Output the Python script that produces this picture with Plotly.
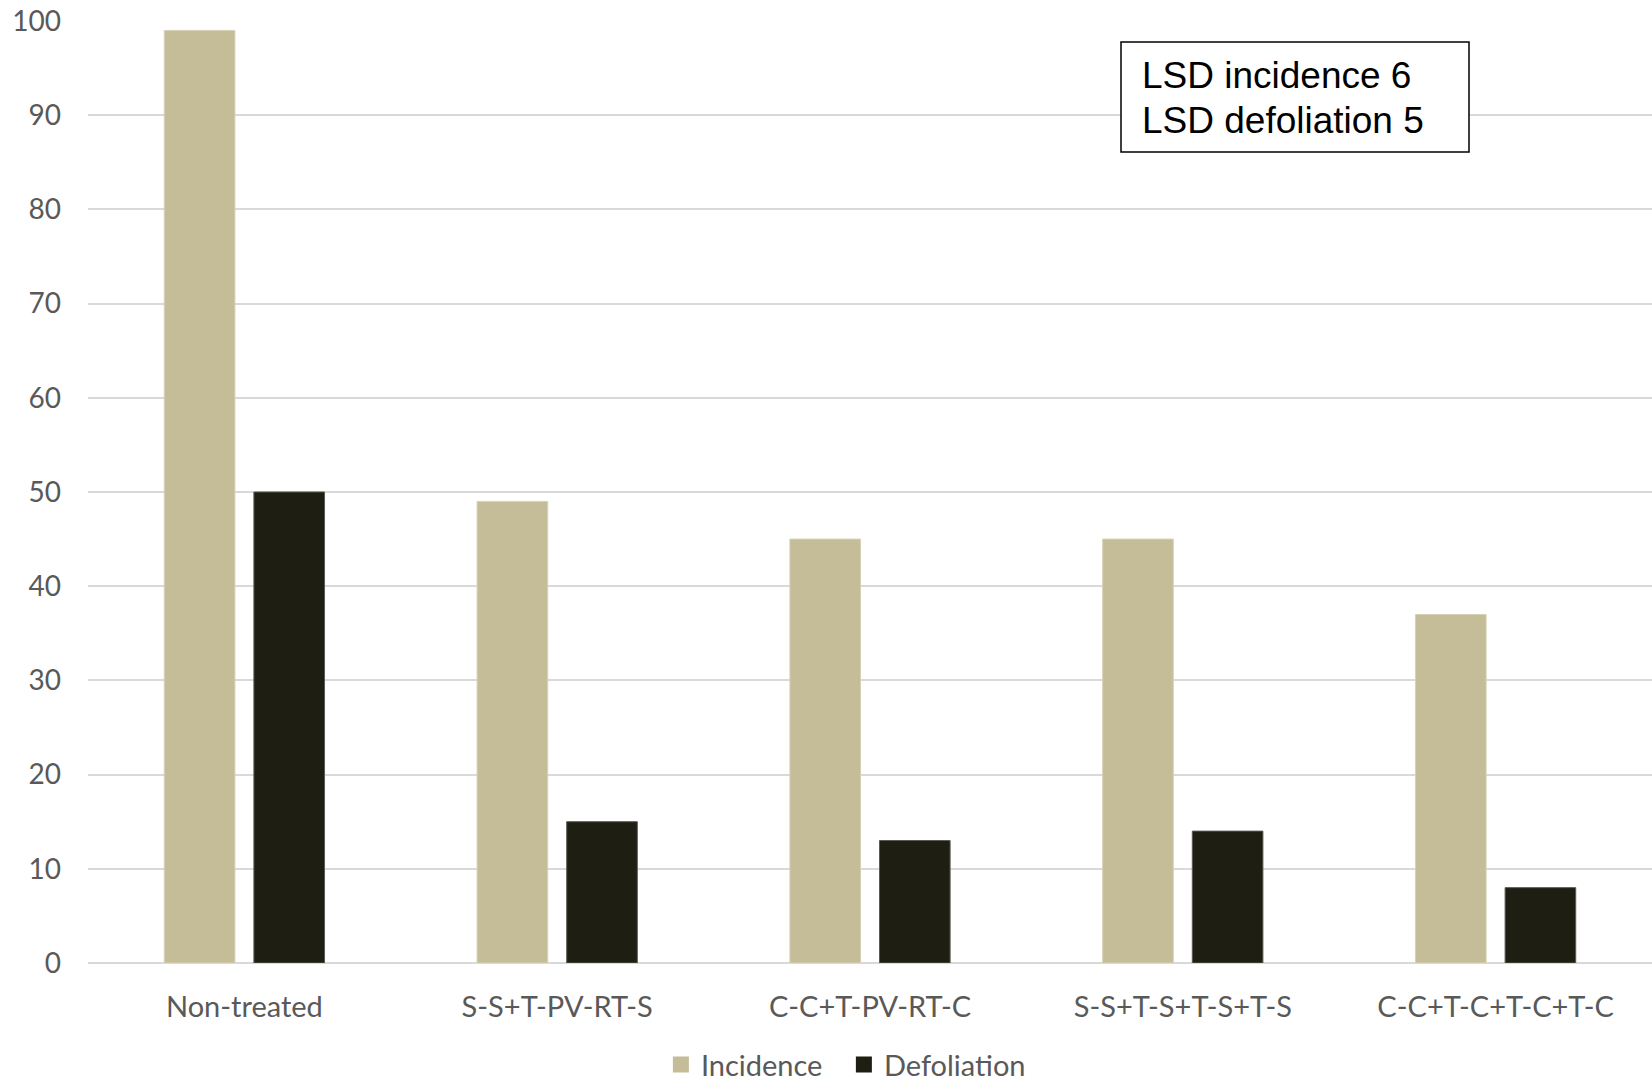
import plotly.graph_objects as go

# Treatment programmes and measured disease levels (%)
treatments = ["Non-treated", "S-S+T-PV-RT-S", "C-C+T-PV-RT-C", "S-S+T-S+T-S+T-S", "C-C+T-C+T-C+T-C"]
incidence = [99, 49, 45, 45, 37]
defoliation = [50, 15, 13, 14, 8]
y_ticks = [0, 10, 20, 30, 40, 50, 60, 70, 80, 90, 100]
lsd_lines = ["LSD incidence 6", "LSD defoliation 5"]

INC_COLOR = "#C4BD97"
DEF_COLOR = "#1F1E12"
TEXT_GRAY = "#595959"
GRID = "#D9D9D9"

fig = go.Figure()
fig.add_trace(go.Bar(x=treatments, y=incidence, name="Incidence",
                     marker=dict(color=INC_COLOR, line=dict(color="#D6D1B6", width=1)),
                     showlegend=False))
fig.add_trace(go.Bar(x=treatments, y=defoliation, name="Defoliation",
                     marker=dict(color=DEF_COLOR, line=dict(color="#5a5a50", width=1)),
                     showlegend=False))

# Legend entries with larger square swatches
for name, col in [("Incidence", INC_COLOR), ("Defoliation", DEF_COLOR)]:
    fig.add_trace(go.Scatter(x=[None], y=[None], mode="markers", name=name,
                             marker=dict(symbol="square", size=18, color=col)))

fig.update_layout(
    width=1652, height=1084,
    margin=dict(l=88, r=0, t=21, b=121, autoexpand=False),
    paper_bgcolor="white", plot_bgcolor="white",
    barmode="group", bargap=0.427, bargroupgap=0.212,
    font=dict(family="Lato, 'Open Sans', sans-serif", color=TEXT_GRAY, size=28),
    legend=dict(orientation="h", x=0.4833, xanchor="center", y=-0.108, yanchor="middle",
                font=dict(size=29, color=TEXT_GRAY), itemwidth=30,
                entrywidth=138, entrywidthmode="pixels",
                traceorder="normal"),
    xaxis=dict(showgrid=False, showline=False, ticks="", tickfont=dict(size=29, color=TEXT_GRAY),
               ticklabelstandoff=24, automargin=False),
    yaxis=dict(range=[0, 100], tickvals=y_ticks, showgrid=True, gridcolor=GRID, gridwidth=1.5,
               zeroline=True, zerolinecolor=GRID, zerolinewidth=1.5, showline=False,
               tickfont=dict(size=28, color=TEXT_GRAY), ticklabelstandoff=26, automargin=False),
)

# LSD box
fig.add_shape(type="rect", xref="paper", yref="paper",
              x0=(1121 - 88) / 1564, x1=(1469 - 88) / 1564,
              y0=(963 - 152) / 942, y1=(963 - 42) / 942,
              line=dict(color="black", width=1.5), fillcolor="white", layer="above")
for i, line in enumerate(lsd_lines):
    fig.add_annotation(xref="paper", yref="paper", x=(1140 - 88) / 1564,
                       y=(963 - (76 + 45 * i)) / 942, xanchor="left", yanchor="middle",
                       text=line, showarrow=False,
                       font=dict(family="Liberation Sans, Arial, sans-serif", size=37, color="black"))

fig.write_html("out.html")
